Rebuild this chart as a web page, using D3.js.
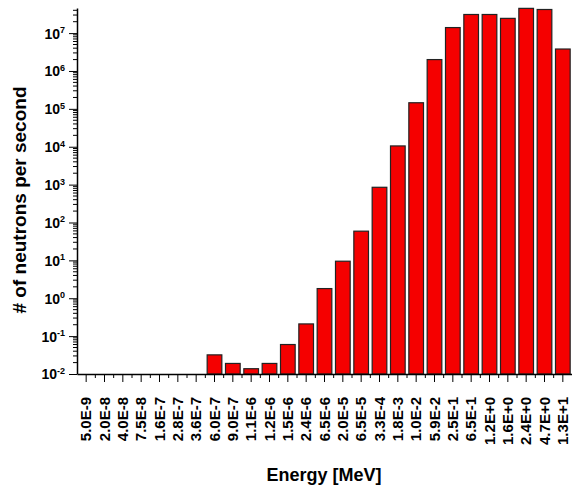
<!DOCTYPE html>
<html>
<head>
  <meta charset="utf-8">
  <script src="https://cdnjs.cloudflare.com/ajax/libs/d3/7.8.5/d3.min.js"></script>
  <style>
    body { margin: 0; background: #fff; }
    text { font-family: "Liberation Sans", Arial, sans-serif; font-weight: bold; }
  </style>
</head>
<body>
<svg width="572" height="487"></svg>

<script>
// energy bins (labels on the x axis)
var energies = ["5.0E-9", "2.0E-8", "4.0E-8", "7.5E-8", "1.6E-7", "2.8E-7", "3.6E-7",
  "6.0E-7", "9.0E-7", "1.1E-6", "1.2E-6", "1.5E-6", "2.4E-6", "6.5E-6", "2.0E-5",
  "6.5E-5", "3.3E-4", "1.8E-3", "1.0E-2", "5.9E-2", "2.5E-1", "6.5E-1", "1.2E+0",
  "1.6E+0", "2.4E+0", "4.7E+0", "1.3E+1"];

// neutrons per second in each bin (0 = nothing drawn)
var counts = [0, 0, 0, 0, 0, 0, 0,
  0.032, 0.019, 0.0138, 0.019, 0.06, 0.21, 1.8, 9.5,
  59, 850, 1.05e4, 1.45e5, 2.0e6, 1.4e7, 3.1e7, 3.1e7,
  2.45e7, 4.5e7, 4.2e7, 3.8e6];

// decades with a label on the y axis
var decades = [-2, -1, 0, 1, 2, 3, 4, 5, 6, 7];

var svg = d3.select("svg");
var plotLeft = 77, plotRight = 572, plotTop = 8, plotBottom = 374;

var x = d3.scaleBand()
    .domain(energies)
    .range([plotLeft, plotRight])
    .paddingInner(0.2)
    .paddingOuter(0.1);

var y = d3.scaleLog()
    .domain([0.01, 4.6e7])
    .range([plotBottom, plotTop]);

// bars
svg.selectAll("rect.bar")
    .data(energies.map(function(e, i) { return { e: e, v: counts[i] }; })
                  .filter(function(d) { return d.v > 0; }))
  .enter()
  .append("rect")
    .attr("class", "bar")
    .attr("x", function(d) { return x(d.e); })
    .attr("width", x.bandwidth())
    .attr("y", function(d) { return y(d.v); })
    .attr("height", function(d) { return plotBottom - y(d.v); })
    .style("fill", "#f50000")
    .style("stroke", "#222")
    .style("stroke-width", 1.2);

// x axis: long ticks at bar centres, short ticks between bars
var xAxis = svg.append("g")
    .attr("transform", "translate(0," + plotBottom + ")")
    .call(d3.axisBottom(x).tickSize(8).tickSizeOuter(0));

xAxis.selectAll("text")
    .attr("transform", "rotate(-90)")
    .attr("x", -23)
    .attr("y", 0)
    .attr("dy", "0.35em")
    .style("text-anchor", "end")
    .style("font-size", "15px")
    .style("fill", "#000");

xAxis.selectAll("line.minor")
    .data(energies.slice(1))
  .enter()
  .append("line")
    .attr("class", "minor")
    .attr("x1", function(d) { return x(d) - x.step() * 0.1; })
    .attr("x2", function(d) { return x(d) - x.step() * 0.1; })
    .attr("y1", 0)
    .attr("y2", 4)
    .style("stroke", "#000");

// y axis, log with minor ticks
var yAxis = svg.append("g")
    .attr("transform", "translate(" + plotLeft + ",0)")
    .call(d3.axisLeft(y)
        .tickValues(decades.map(function(k) { return Math.pow(10, k); }))
        .tickSize(8)
        .tickSizeOuter(0)
        .tickFormat(""));

yAxis.selectAll(".tick").each(function(d, i) {
  var t = d3.select(this).append("text")
      .attr("x", -12)
      .attr("dy", "0.35em")
      .style("text-anchor", "end")
      .style("font-size", "14px")
      .style("fill", "#000");
  t.append("tspan").text("10");
  t.append("tspan")
      .attr("dy", "-0.6em")
      .style("font-size", "9px")
      .text(decades[i]);
});

var minors = [];
decades.forEach(function(k) {
  for (var m = 2; m <= 9; m++) {
    var v = m * Math.pow(10, k);
    if (v <= y.domain()[1]) minors.push(v);
  }
});
yAxis.selectAll("line.minor")
    .data(minors)
  .enter()
  .append("line")
    .attr("class", "minor")
    .attr("x1", -4)
    .attr("x2", 0)
    .attr("y1", function(d) { return y(d); })
    .attr("y2", function(d) { return y(d); })
    .style("stroke", "#000");

svg.selectAll(".domain").style("stroke-width", 1.5);

// axis titles
svg.append("text")
    .attr("x", 324)
    .attr("y", 481)
    .style("text-anchor", "middle")
    .style("font-size", "18px")
    .text("Energy [MeV]");

svg.append("text")
    .attr("transform", "translate(26,200) rotate(-90)")
    .style("text-anchor", "middle")
    .style("font-size", "19px")
    .text("# of neutrons per second");
</script>
</body>
</html>
